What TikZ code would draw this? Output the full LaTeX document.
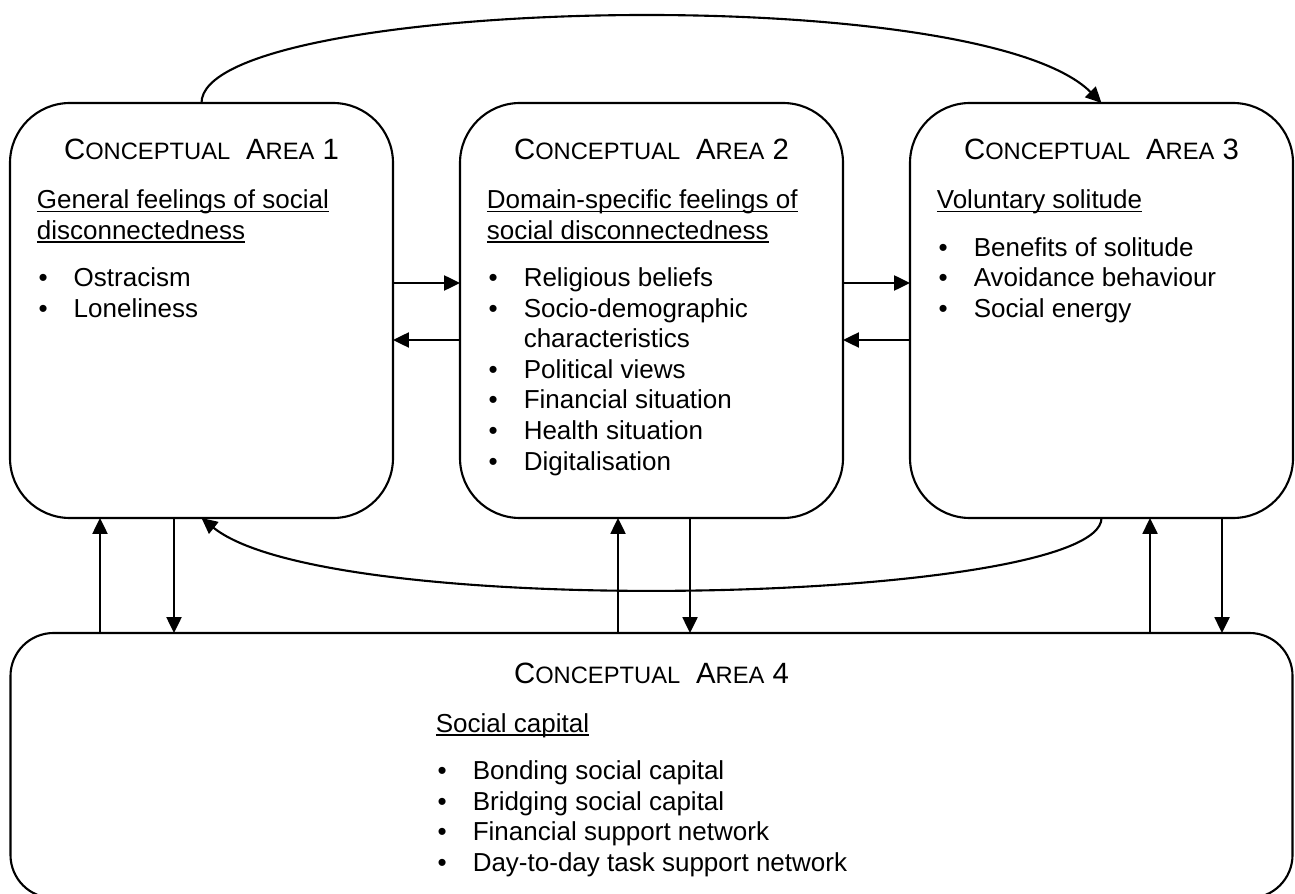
\documentclass[tikz,border=0pt]{standalone}
\usepackage{fontspec}
\setmainfont{Liberation Sans}
\usetikzlibrary{positioning,arrows.meta}

\newcommand{\sm}[1]{{\fontsize{13.5}{16}\selectfont #1}}
\newcommand{\subhead}[1]{\sbox0{#1}\rlap{\rule[-2.1pt]{\wd0}{0.95pt}}\usebox0}
\newcommand{\itm}{\makebox[21pt][l]{\hspace{1pt}\textbullet}}

\begin{document}
\begin{tikzpicture}[
  area/.style={draw, line width=1.2pt, rounded corners=1.2cm, outer sep=0,
    minimum width=7.66cm, minimum height=8.3cm},
  arr/.style={-{Triangle[length=9pt,width=8.5pt]}, line width=1.2pt},
  titletext/.style={anchor=base, inner sep=0, font=\fontsize{16.7}{20}\selectfont},
  blocktext/.style={anchor=north west, inner sep=0, align=left,
    font=\fontsize{14.8}{17.4}\selectfont}]
\useasboundingbox (0,0) rectangle (25.9,17.86);
\clip (0,0) rectangle (25.9,17.86);

% the four areas
\node[area] (area1) at (4.03,11.65) {};
\node[area, right=1.34cm of area1] (area2) {};
\node[area, right=1.34cm of area2] (area3) {};
\node[area, below=2.3cm of area2, minimum width=25.64cm, minimum height=5.3cm,
  rounded corners=0.86cm] (area4) {};

% titles
\node[titletext] (title1) at ([yshift=-1.14cm]area1.north) {C\sm{ONCEPTUAL}\hspace{9pt}A\sm{REA} 1};
\node[titletext] (title2) at ([yshift=-1.14cm]area2.north) {C\sm{ONCEPTUAL}\hspace{9pt}A\sm{REA} 2};
\node[titletext] (title3) at ([yshift=-1.14cm]area3.north) {C\sm{ONCEPTUAL}\hspace{9pt}A\sm{REA} 3};
\node[titletext] (title4) at ([yshift=-1.0cm]area4.north) {C\sm{ONCEPTUAL}\hspace{9pt}A\sm{REA} 4};

% contents
\node[blocktext] (text1) at ([xshift=0.53cm,yshift=-1.68cm]area1.north west)
  {\strut\subhead{General feelings of social}\\ \subhead{disconnectedness}\\[9.5pt]
   \itm Ostracism\\ \itm Loneliness};
\node[blocktext] (text2) at ([xshift=0.53cm,yshift=-1.68cm]area2.north west)
  {\strut\subhead{Domain-specific feelings of}\\ \subhead{social disconnectedness}\\[9.5pt]
   \itm Religious beliefs\\ \itm Socio-demographic\\ \hspace*{21pt}characteristics\\
   \itm Political views\\ \itm Financial situation\\ \itm Health situation\\
   \itm Digitalisation};
\node[blocktext] (text3) at ([xshift=0.53cm,yshift=-1.68cm]area3.north west)
  {\strut\subhead{Voluntary solitude}\\[9.5pt]
   \itm Benefits of solitude\\ \itm Avoidance behaviour\\ \itm Social energy};
\node[blocktext] (text4) at ([xshift=8.5cm,yshift=-1.55cm]area4.north west)
  {\strut\subhead{Social capital}\\[9.5pt]
   \itm Bonding social capital\\ \itm Bridging social capital\\
   \itm Financial support network\\ \itm Day-to-day task support network};

% arrows between the top areas
\draw[arr] (area1.east |- 0,12.2) -- (area2.west |- 0,12.2);
\draw[arr] (area2.west |- 0,11.06) -- (area1.east |- 0,11.06);
\draw[arr] (area2.east |- 0,12.2) -- (area3.west |- 0,12.2);
\draw[arr] (area3.west |- 0,11.06) -- (area2.east |- 0,11.06);
\draw[arr] (area1.north) .. controls +(0,2.1) and +(-2.5,2.5) .. (area3.north);
\draw[arr] (area3.south) .. controls +(0,-1.7) and +(2.6,-2.1) .. (area1.south);

% arrows to and from area 4
\draw[arr] (2.0,0 |- area4.north) -- (2.0,0 |- area1.south);
\draw[arr] (3.48,0 |- area1.south) -- (3.48,0 |- area4.north);
\draw[arr] (12.36,0 |- area4.north) -- (12.36,0 |- area2.south);
\draw[arr] (13.8,0 |- area2.south) -- (13.8,0 |- area4.north);
\draw[arr] (23.0,0 |- area4.north) -- (23.0,0 |- area3.south);
\draw[arr] (24.44,0 |- area3.south) -- (24.44,0 |- area4.north);
\end{tikzpicture}
\end{document}
